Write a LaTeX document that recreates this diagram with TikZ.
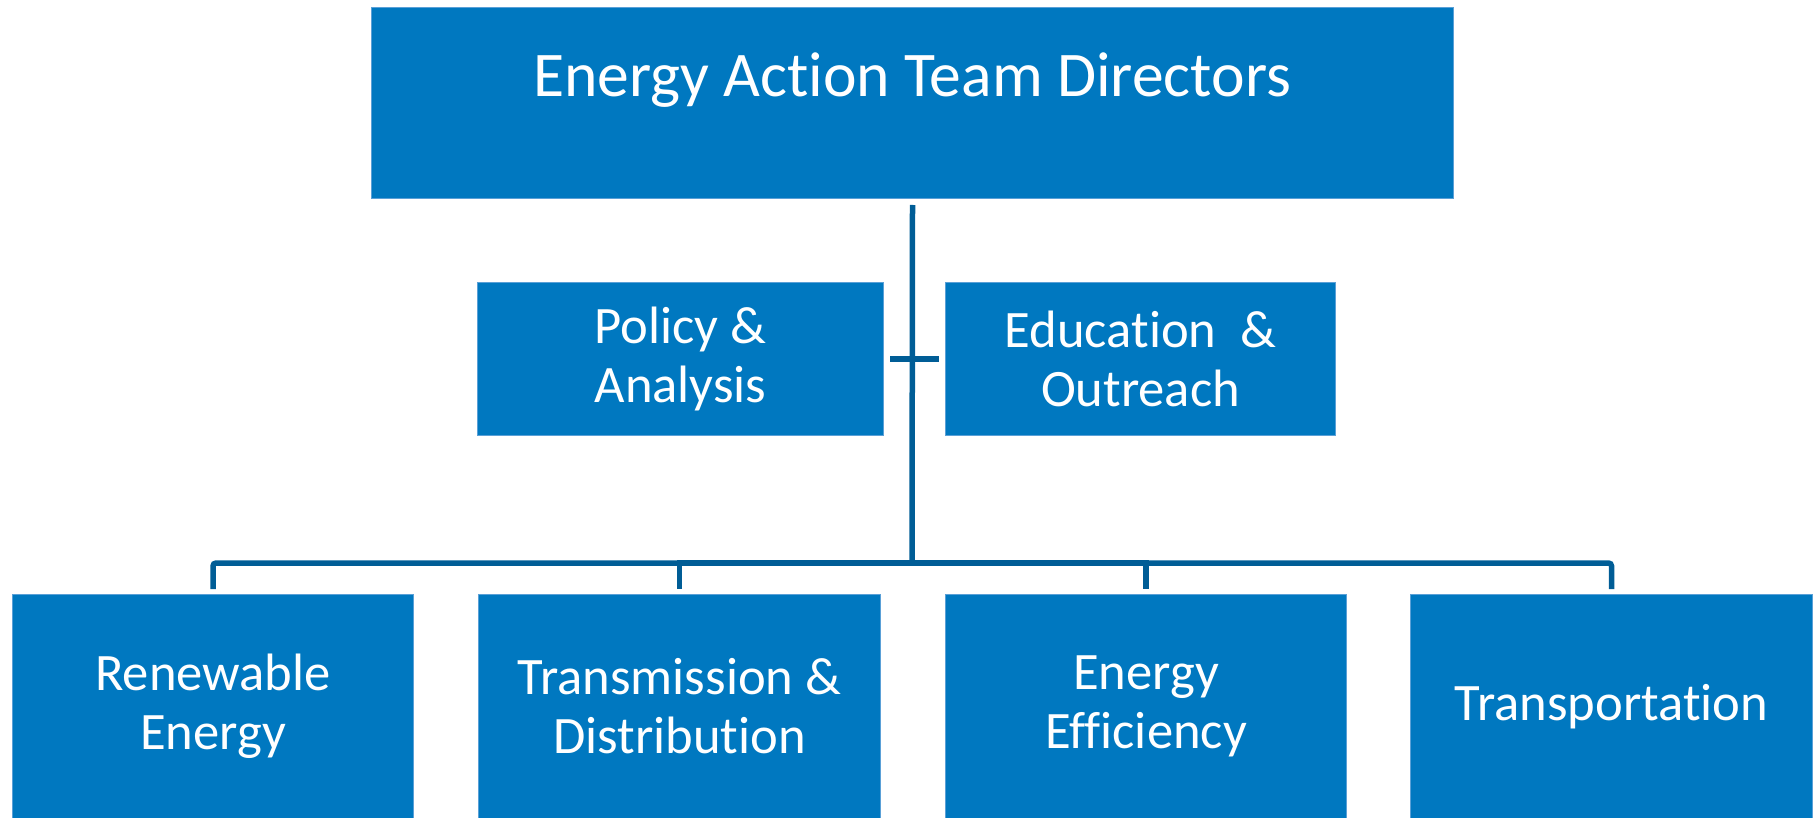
\documentclass[tikz,border=0pt]{standalone}
\usepackage{fontspec}
\setmainfont[RawFeature={-liga;-clig;-calt;-dlig}]{Carlito}
\definecolor{boxblue}{RGB}{0,120,192}
\definecolor{edgeblue}{RGB}{90,160,215}
\definecolor{lineblue}{RGB}{0,93,150}
\begin{document}
\begin{tikzpicture}[x=0.5pt,y=-0.5pt,
  orgbox/.style={rectangle, fill=boxblue, draw=edgeblue, line width=0.5pt, inner sep=0pt, anchor=north west, text=white, align=center, font=\fontsize{26.3}{29.5}\selectfont},
  conn/.style={draw=lineblue, line width=2.75pt}]
\useasboundingbox (0,0) rectangle (1820,818);
% boxes
\node[orgbox, minimum width=541pt, minimum height=95.5pt] (top) at (371,7) {};
\node[text=white, font=\fontsize{31.8}{36}\selectfont, inner sep=0pt] (toptext) at (912,80) {Energy Action Team Directors};
\node[orgbox, minimum width=203pt, minimum height=76.5pt] (pol) at (477,282) {Policy \&\\Analysis};
\node[orgbox, minimum width=195pt, minimum height=76.5pt] (edu) at (945,282) {Education\ \ \&\\Outreach};
\node[orgbox, minimum width=200.5pt, minimum height=112pt] (ren) at (12,594) {Renewable\\Energy};
\node[orgbox, minimum width=201pt, minimum height=112pt] (tnd) at (478,594) {Transmission \&\\Distribution};
\node[orgbox, minimum width=200.5pt, minimum height=112pt] (eff) at (945,594) {Energy\\Efficiency};
\node[orgbox, minimum width=201pt, minimum height=112pt] (trn) at (1410,594) {Transportation};
% connectors
\coordinate (bus) at (912,563);
\draw[conn] ([yshift=-3pt]top.south) -- (bus);
\draw[conn] ([xshift=3pt]pol.east) -- ([xshift=-3pt]edu.west);
\draw[conn, rounded corners=1.5pt] (bus) -| ([yshift=2.5pt]ren.north);
\draw[conn, rounded corners=1.5pt] (bus) -| ([yshift=2.5pt]trn.north);
\draw[conn] (bus) -| ([yshift=2.5pt]tnd.north);
\draw[conn] (bus) -| ([yshift=2.5pt]eff.north);
\end{tikzpicture}
\end{document}
